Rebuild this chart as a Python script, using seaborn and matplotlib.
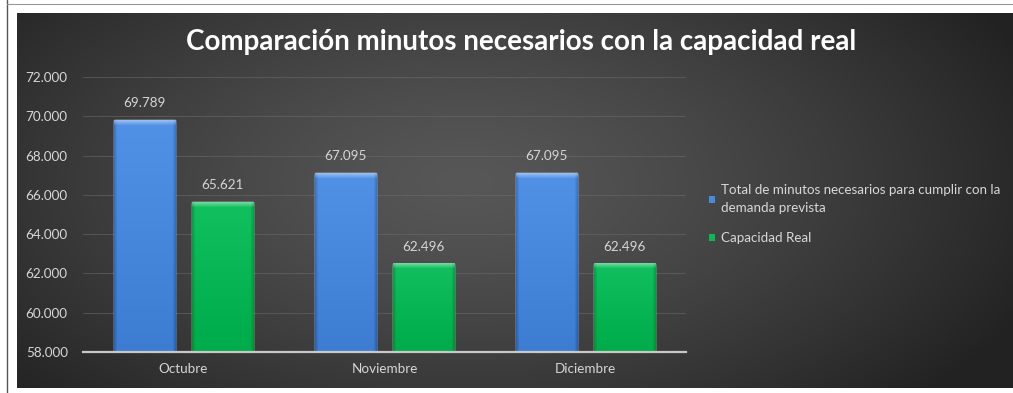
import numpy as np
import pandas as pd
import matplotlib
matplotlib.use("Agg")
import matplotlib.pyplot as plt
from matplotlib.lines import Line2D
from matplotlib.ticker import FuncFormatter, FixedLocator
import seaborn as sns

# ---- data ----
meses = ["Octubre", "Noviembre", "Diciembre"]
minutos_necesarios = [69789, 67095, 67095]
capacidad_real = [65621, 62496, 62496]
serie_necesarios = "Total de minutos necesarios para cumplir con la demanda prevista"
serie_capacidad = "Capacidad Real"
titulo = "Comparación minutos necesarios con la capacidad real"

df = pd.DataFrame({
    "Mes": meses * 2,
    "Minutos": minutos_necesarios + capacidad_real,
    "Serie": [serie_necesarios] * len(meses) + [serie_capacidad] * len(meses),
})

sns.set_theme(style="white")
plt.rcParams["font.family"] = ["Lato", "DejaVu Sans"]

W, H = 1013, 393
fig = plt.figure(figsize=(W / 100, H / 100), dpi=100, facecolor="white")

# thin frame lines of the surrounding page
fig.add_artist(Line2D([7 / W, 7 / W], [0, 1], transform=fig.transFigure, color="#555555", lw=1.0))
fig.add_artist(Line2D([7 / W, 1], [1 - 4 / H, 1 - 4 / H], transform=fig.transFigure, color="#999999", lw=0.8))

# dark chart area with a soft radial gradient
bg = fig.add_axes([17 / W, 5 / H, (W - 17) / W, 375 / H])
bg.set_axis_off()
yy, xx = np.mgrid[0:1:300j, 0:1:800j]
r = np.sqrt(((xx - 0.45) / 0.62) ** 2 + ((yy - 0.55) / 0.85) ** 2)
t = np.clip(r, 0, 1) ** 1.3
c0 = np.array([0x57, 0x57, 0x57]) / 255
c1 = np.array([0x22, 0x22, 0x22]) / 255
img = c0[None, None, :] * (1 - t[..., None]) + c1[None, None, :] * t[..., None]
bg.imshow(img, extent=[0, 1, 0, 1], aspect="auto", origin="lower")
bg.set_xlim(0, 1)
bg.set_ylim(0, 1)

# main plot
ax = fig.add_axes([83 / W, (H - 352) / H, (686 - 83) / W, (352 - 77) / H])
ax.patch.set_alpha(0)

blue = "#4a8ade"
green = "#0ab857"
sns.barplot(data=df, x="Mes", y="Minutos", hue="Serie", palette=[blue, green],
            width=0.78, gap=0.22, saturation=1, ax=ax, legend=True)

YMIN, YMAX = 58000, 72000
ax.set_ylim(YMIN, YMAX)
ax.yaxis.set_major_locator(FixedLocator(np.arange(YMIN, YMAX + 1, 2000)))
ax.yaxis.set_major_formatter(FuncFormatter(lambda v, p: f"{v:,.0f}".replace(",", ".")))
ax.set_xlim(-0.5, 2.5)
ax.set_xlabel("")
ax.set_ylabel("")

for s in ["top", "right", "left"]:
    ax.spines[s].set_visible(False)
ax.spines["bottom"].set_color("#c8c8c8")
ax.spines["bottom"].set_linewidth(1.6)
ax.spines["bottom"].set_zorder(5)
ax.grid(axis="y", color="#6a6a6a", lw=0.8, alpha=0.55)
ax.set_axisbelow(True)
ax.tick_params(axis="both", length=0, colors="#d6d6d6", labelsize=9.7)
ax.tick_params(axis="y", pad=11)
ax.tick_params(axis="x", pad=8)

# bevelled shading on the visible part of each bar
fig.canvas.draw()
def shade(patch, base):
    base = np.array(matplotlib.colors.to_rgb(base))
    x0, w = patch.get_x(), patch.get_width()
    y1 = patch.get_y() + patch.get_height()
    y0 = max(patch.get_y(), YMIN)
    p0 = ax.transData.transform((x0, y0))
    p1 = ax.transData.transform((x0 + w, y1))
    n = max(int(p1[1] - p0[1]), 2)
    m = max(int(p1[0] - p0[0]), 2)
    rows = np.linspace(0, 1, n)[:, None]
    cols = np.linspace(0, 1, m)[None, :]
    light = 0.03 * rows - 0.05 * (1 - rows)
    edge = -0.10 * (np.clip(1 - cols / 0.05, 0, 1) + np.clip((cols - 0.95) / 0.05, 0, 1))
    arr = base[None, None, :] + (light + edge)[..., None]
    top = 5
    for i in range(min(top, n)):
        k = 1 - i / top
        arr[n - 1 - i] = arr[n - 1 - i] * (1 - 0.4 * k) + 0.4 * k
    arr = np.clip(arr, 0, 1)
    im = ax.imshow(arr, extent=[x0, x0 + w, y0, y1], origin="lower",
                   aspect="auto", zorder=patch.get_zorder() + 0.1, interpolation="bilinear")
    im.set_clip_on(True)

for cont, col in zip(ax.containers, [blue, green]):
    for p in cont.patches:
        shade(p, col)
ax.set_xlim(-0.5, 2.5)
ax.set_ylim(YMIN, YMAX)

# value labels
for cont, vals in zip(ax.containers, [minutos_necesarios, capacidad_real]):
    ax.bar_label(cont, labels=[f"{v:,.0f}".replace(",", ".") for v in vals],
                 padding=8, color="#d6d6d6", fontsize=9.7)

# legend
leg = ax.get_legend()
handles = leg.legend_handles
leg.remove()
for h in handles:
    h.set_edgecolor("none")
labels = ["Total de minutos necesarios para cumplir con la\ndemanda prevista", serie_capacidad]
lg = fig.legend(handles, labels, loc="upper left", bbox_to_anchor=(709 / W, 1 - 184 / H),
                frameon=False, fontsize=9.6, handlelength=0.42, handleheight=0.42,
                handletextpad=0.5, labelspacing=1.3, borderpad=0, borderaxespad=0)
for txt in lg.get_texts():
    txt.set_color("#d9d9d9")
    txt.set_linespacing(1.65)

fig.text(0.5 + 15 / W, 1 - 42 / H, titulo, ha="center", va="center", color="white",
         fontsize=20, fontweight="bold")

fig.savefig("out.png", dpi=100, facecolor="white")
